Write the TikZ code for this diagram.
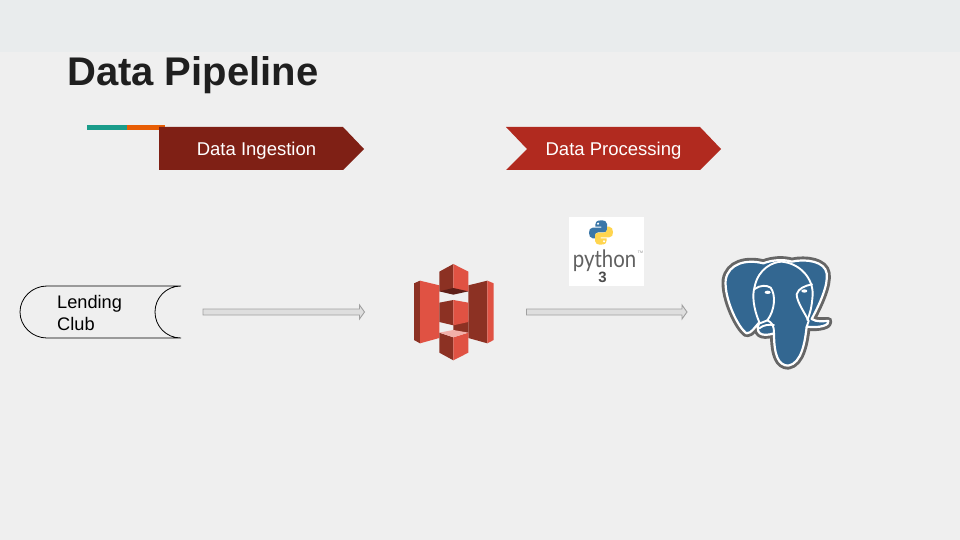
\documentclass[tikz,border=0pt]{standalone}
\usepackage{fontspec}
\setmainfont{Liberation Sans}
\newfontfamily\logofont{Lato}
\usetikzlibrary{calc}
\definecolor{pagebg}{HTML}{EFEFEF}
\definecolor{bandbg}{HTML}{E9ECED}
\definecolor{teal1}{HTML}{1A9C8A}
\definecolor{orange1}{HTML}{E85D04}
\definecolor{darkred}{HTML}{7F2015}
\definecolor{midred}{HTML}{B12A1F}
\definecolor{s3light}{HTML}{E05243}
\definecolor{s3dark}{HTML}{8C3123}
\definecolor{s3pink}{HTML}{F2B0A9}
\definecolor{s3shadow}{HTML}{5E1F18}
\definecolor{pgblue}{HTML}{336791}
\definecolor{pggray}{HTML}{666666}
\definecolor{pyblue}{HTML}{3B77A8}
\definecolor{pyyellow}{HTML}{FFD54F}
\definecolor{pipeline}{HTML}{A0A0A0}
\definecolor{pipefill}{HTML}{DEDEDE}
\tikzset{
  chevlabel/.style={text=white,font=\fontsize{18.5}{21}\selectfont,inner sep=0pt},
  pipe/.style={draw=pipeline,fill=pipefill,line width=.9pt,line join=miter,
    to path={
      ($(\tikztostart)+(0,-3)$) -- ($(\tikztotarget)+(-5,-3)$) -- ($(\tikztotarget)+(-5,-7)$)
      -- (\tikztotarget) -- ($(\tikztotarget)+(-5,7)$) -- ($(\tikztotarget)+(-5,3)$)
      -- ($(\tikztostart)+(0,3)$) -- cycle}},
  icon/.style={minimum width=#1,inner sep=0pt,outer sep=0pt},
  s3l/.style={fill=s3light},
  s3d/.style={fill=s3dark},
  pgline/.style={white,line width=1.9pt,line cap=round,line join=round}
}
\newcommand{\snakepath}{(124,31) .. controls (108,31) and (106,38) .. (106,44) -- (106,50) -- (124,50) -- (124,53) -- (98,53) .. controls (90,53) and (87,60) .. (87,68) .. controls (87,76) and (90,85) .. (98,85) -- (105,85) -- (105,76) .. controls (105,70) and (110,67) .. (115,67) -- (132,67) .. controls (138,67) and (141,63) .. (141,58) -- (141,42) .. controls (141,35) and (134,31) .. (124,31) -- cycle}
\newcommand{\pgbody}{(160,55) .. controls (110,42) and (55,55) .. (47,105) .. controls (42,160) and (85,250) .. (110,265) .. controls (125,265) and (135,245) .. (148,232) .. controls (135,262) and (150,278) .. (192,265) .. controls (192,330) and (205,362) .. (235,362) .. controls (275,355) and (285,290) .. (290,245) .. controls (330,250) and (360,240) .. (355,228) .. controls (340,228) and (320,232) .. (305,222) .. controls (330,175) and (355,120) .. (350,85) .. controls (345,50) and (290,40) .. (245,50) .. controls (220,42) and (185,45) .. (160,55) -- cycle}
\begin{document}
\begin{tikzpicture}[x=1pt,y=-1pt]
\useasboundingbox (0,0) rectangle (960,540);
\fill[pagebg] (0,0) rectangle (960,540);
\fill[bandbg] (0,0) rectangle (960,52);
\node[anchor=west,inner sep=0pt,text=black!88,font=\fontsize{40}{46}\selectfont\bfseries] (title) at (67,75.5) {Data Pipeline};
% accent
\fill[teal1] (87,125) rectangle (127,130);
\fill[orange1] (127,125) rectangle (165,130);
% chevrons
\fill[darkred] (159,127) -- (343,127) -- (364,149) -- (343,170) -- (159,170) -- cycle;
\node[chevlabel] (ingest) at (256.5,150.5) {Data Ingestion};
\fill[midred] (506,127) -- (700,127) -- (721,149) -- (700,170) -- (506,170) -- (527,149) -- cycle;
\node[chevlabel] (process) at (613.5,150.5) {Data Processing};
% source
\draw[black,line width=.8pt] (181,286) -- (47,286) .. controls (32,286) and (20,298) .. (20,312) .. controls (20,326) and (32,338) .. (47,338) -- (181,338) .. controls (166,338) and (155,326) .. (155,312) .. controls (155,298) and (166,286) .. (181,286);
\node[anchor=west,align=left,inner sep=0pt,text=black,font=\fontsize{18.2}{22}\selectfont] (club) at (57,312.5) {Lending\\Club};
% S3
\begin{scope}[shift={(400,250)},x=.3333pt,y=-.3333pt]
\fill[s3d] (42,100) -- (60,92) -- (60,280) -- (42,270) -- cycle;
\fill[s3l] (60,92) -- (118,106) -- (118,264) -- (60,280) -- cycle;
\fill[s3d] (205,106) -- (262,92) -- (262,280) -- (205,264) -- cycle;
\fill[s3l] (262,92) -- (281,100) -- (281,270) -- (262,280) -- cycle;
\fill[s3d] (160,222) -- (205,212) -- (205,250) -- (160,245) -- cycle;
% top cube
\fill[s3d] (118,65) -- (160,42) -- (160,122) -- (118,124) -- cycle;
\fill[s3l] (160,42) -- (205,65) -- (205,124) -- (160,122) -- cycle;
\fill[s3shadow] (118,124) -- (160,114) -- (205,124) -- (160,134) -- cycle;
% middle cube
\fill[s3d] (118,158) -- (160,150) -- (160,226) -- (118,216) -- cycle;
\fill[s3l] (160,150) -- (205,158) -- (205,216) -- (160,226) -- cycle;
% bottom cube
\fill[s3d] (118,248) -- (160,262) -- (160,331) -- (118,308) -- cycle;
\fill[s3l] (160,262) -- (205,248) -- (205,308) -- (160,331) -- cycle;
\fill[s3pink] (118,248) -- (160,240) -- (205,248) -- (160,262) -- cycle;
\end{scope}
\node[icon=81pt,minimum height=97pt] (s3) at (454,312) {};
% python
\fill[white] (569,217) rectangle (644,286);
\begin{scope}[shift={(560,210)},x=.3333pt,y=-.3333pt]
\fill[pyblue] \snakepath;
\begin{scope}[rotate around={180:(123,67.5)}]
\fill[pyyellow] \snakepath;
\end{scope}
\fill[white] (114,41) circle (3.5);
\fill[white] (132,94) circle (3.5);
\end{scope}
\node[anchor=base,inner sep=0pt,text=black!62,font=\logofont\fontsize{24}{26}\selectfont] (pytext) at (604.5,267) {\scalebox{.85}[1]{python}};
\node[inner sep=0pt,text=black!70,font=\fontsize{15}{16}\selectfont\bfseries] (pythree) at (602.5,277.5) {3};
\node[inner sep=0pt,text=black!45,font=\fontsize{3.5}{4}\selectfont] (pytm) at (640.5,252) {TM};
% postgres
\begin{scope}[shift={(710,245)},x=.3333pt,y=-.3333pt]
\draw[pggray,line width=8pt,line join=round] \pgbody;
\fill[pgblue] \pgbody;
\draw[white,line width=2.2pt,line join=round] \pgbody;
\draw[pgline] (148,232) .. controls (130,190) and (126,150) .. (134,125) .. controls (145,70) and (190,50) .. (215,50) .. controls (270,55) and (310,100) .. (308,150) .. controls (305,190) and (300,205) .. (292,225);
\draw[pgline] (134,132) .. controls (150,120) and (170,120) .. (182,128) .. controls (198,150) and (195,195) .. (172,226) -- (150,235);
\draw[pgline] (172,226) .. controls (185,232) and (192,240) .. (192,265);
\draw[pgline] (148,250) .. controls (160,240) and (175,238) .. (192,240);
\draw[pgline] (306,118) .. controls (285,122) and (265,130) .. (260,148) .. controls (260,170) and (285,205) .. (296,228) -- (290,245);
\fill[white] (173,142) ellipse (9 and 5);
\fill[white] (283,138) ellipse (9 and 5);
\end{scope}
\node[icon=112pt,minimum height=116pt] (pg) at (777,312) {};
% connectors
\coordinate (a1) at ($(club.west)+(146,-0.5)$);
\coordinate (a2) at ($(s3.west)+(-49,0)$);
\coordinate (b1) at ($(s3.east)+(32,0)$);
\coordinate (b2) at ($(pg.west)+(-34,0)$);
\draw[pipe] (a1) to (a2);
\draw[pipe] (b1) to (b2);
\end{tikzpicture}
\end{document}
